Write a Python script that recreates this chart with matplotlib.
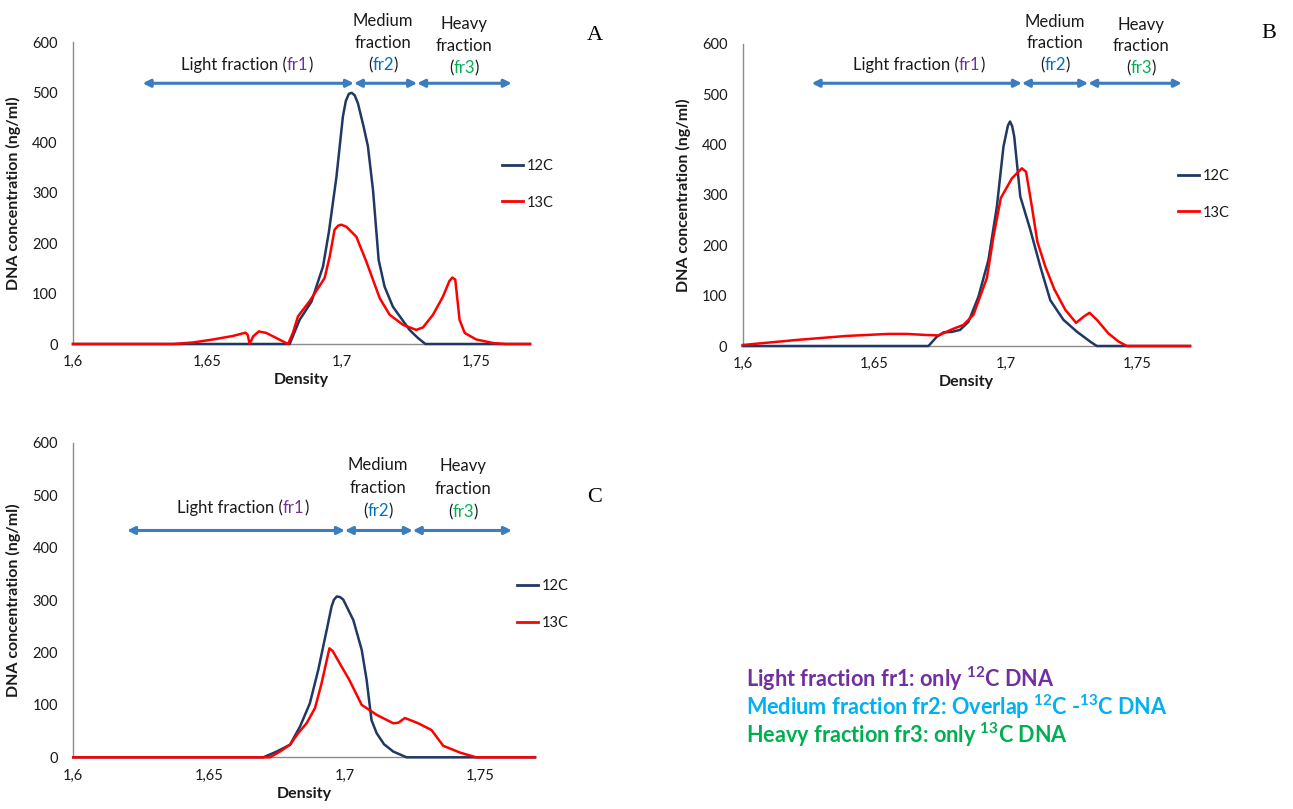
import matplotlib
matplotlib.use("Agg")
import matplotlib.pyplot as plt
from matplotlib.lines import Line2D

plt.rcParams['font.family'] = ['Lato', 'DejaVu Sans']
plt.rcParams['mathtext.fontset'] = 'custom'
plt.rcParams['mathtext.rm'] = 'Lato'
plt.rcParams['mathtext.bf'] = 'Lato:bold'

# ---------------- data ----------------
X_TICKS = [1.6, 1.65, 1.7, 1.75]
X_TICKLABELS = ['1,6', '1,65', '1,7', '1,75']
Y_TICKS = [0, 100, 200, 300, 400, 500, 600]
SERIES = ['12C', '13C']

A_12C_d = [1.600, 1.636, 1.668, 1.6806, 1.6843, 1.6887, 1.6930, 1.6952, 1.6980, 1.7004, 1.7015, 1.7026,
           1.7037, 1.7048, 1.7060, 1.7081, 1.7097, 1.7116, 1.7137, 1.7159, 1.7190, 1.7252, 1.7283, 1.7311,
           1.742, 1.750, 1.760, 1.770]
A_12C_v = [0, 0, 0, 0, 48, 84, 154, 223, 332, 452, 483, 497,
           499, 494, 478, 432, 393, 306, 167, 114, 74, 28, 12, 0,
           0, 0, 0, 0]
A_13C_d = [1.600, 1.6372, 1.6446, 1.6521, 1.6595, 1.6642, 1.6650, 1.6657, 1.6670, 1.6691, 1.6719, 1.6756,
           1.6800, 1.6818, 1.6837, 1.6880, 1.6936, 1.6955, 1.6973, 1.6986, 1.6998, 1.7017, 1.7054, 1.7091,
           1.7141, 1.7178, 1.7228, 1.7277, 1.7302, 1.7339, 1.7376, 1.7400, 1.7411, 1.7422, 1.7438, 1.7457,
           1.7500, 1.7562, 1.7610, 1.7700]
A_13C_v = [0, 0, 3, 9, 16, 22.5, 18, 0, 15, 25, 22, 12,
           0, 22, 55, 85, 131, 174, 227, 235, 237, 233, 213, 164,
           91, 58, 38, 28, 33, 58, 94, 125, 132, 128, 48, 22,
           9, 2, 0, 0]

B_12C_d = [1.600, 1.660, 1.6706, 1.6738, 1.6763, 1.6795, 1.6826, 1.6858, 1.6896, 1.6934, 1.6966, 1.6991,
           1.7008, 1.7016, 1.7024, 1.7032, 1.7055, 1.7093, 1.7131, 1.7169, 1.7219, 1.7270, 1.7321, 1.7346,
           1.750, 1.770]
B_12C_v = [0, 0, 0, 18.5, 27, 28, 32, 48, 98, 171, 277, 396,
           438, 446, 437, 416, 297, 231, 158, 91, 52, 28.5, 8.6, 0,
           0, 0]
B_13C_d = [1.600, 1.6205, 1.6395, 1.6554, 1.6624, 1.6693, 1.6744, 1.6795, 1.6839, 1.6877, 1.6902, 1.6928,
           1.6953, 1.6981, 1.7023, 1.7061, 1.7077, 1.7099, 1.7120, 1.7150, 1.7184, 1.7226, 1.7267, 1.7295,
           1.7318, 1.7346, 1.7390, 1.7428, 1.7460, 1.770]
B_13C_v = [2, 12, 20, 24, 24, 22, 21, 33, 42, 62, 98, 135,
           217, 294, 333, 353, 346, 277, 207, 158, 113, 72, 46, 58,
           66, 52, 25, 9, 0, 0]

C_12C_d = [1.600, 1.628, 1.660, 1.670, 1.6749, 1.6798, 1.6835, 1.6871, 1.6902, 1.6933, 1.6951, 1.6960,
           1.6970, 1.6982, 1.6994, 1.7031, 1.7062, 1.7080, 1.7098, 1.7117, 1.7144, 1.7178, 1.7227, 1.770]
C_12C_v = [0, 0, 0, 0, 11, 24, 59, 103, 167, 243, 288, 301,
           307, 306, 301, 262, 205, 148, 71, 46, 25, 11, 0, 0]
C_13C_d = [1.600, 1.6724, 1.6761, 1.6798, 1.6828, 1.6859, 1.6890, 1.6914, 1.6943, 1.6955, 1.6988, 1.7016,
           1.7062, 1.7117, 1.7178, 1.7197, 1.7221, 1.7270, 1.7319, 1.7362, 1.7424, 1.7483, 1.770]
C_13C_v = [0, 0, 11, 24, 46, 65, 94, 141, 208, 203, 173, 148,
           100, 81, 65, 66, 75, 65, 52, 22, 9, 0, 0]

# fraction boundaries (density) for each panel
A_FRAC = [1.6259, 1.7045, 1.7280, 1.7632]
B_FRAC = [1.6262, 1.7061, 1.7313, 1.7669]
C_FRAC = [1.6198, 1.7000, 1.7250, 1.7615]

# ---------------- style ----------------
W, H = 1293, 809
NAVY = '#1F3864'
RED = '#FF0000'
ARROW = '#3C7DC0'
PURPLE = '#7030A0'
BLUE = '#0070C0'
CYAN = '#00B0F0'
GREEN = '#00B050'
SPINE = '#8C8C8C'
TXT = '#1a1a1a'

fig = plt.figure(figsize=(W / 100, H / 100), dpi=100)
renderer = fig.canvas.get_renderer()


def fx(x):
    return x / W


def fy(y):
    return 1 - y / H


def make_axes(left, right, bottom, top):
    ax = fig.add_axes([fx(left), fy(bottom), (right - left) / W, (bottom - top) / H])
    ax.set_xlim(1.6, 1.77)
    ax.set_ylim(0, 600)
    ax.set_xticks(X_TICKS)
    ax.set_xticklabels(X_TICKLABELS)
    ax.set_yticks(Y_TICKS)
    for s in ['top', 'right']:
        ax.spines[s].set_visible(False)
    for s in ['left', 'bottom']:
        ax.spines[s].set_color(SPINE)
        ax.spines[s].set_linewidth(1.0)
    ax.tick_params(axis='both', length=0, labelsize=10.5, colors=TXT)
    ax.tick_params(axis='y', pad=11)
    ax.tick_params(axis='x', pad=8)
    ax.set_xlabel('Density', fontweight='bold', fontsize=11.5, color=TXT, labelpad=3)
    ax.set_ylabel('DNA concentration (ng/ml)', fontweight='bold', fontsize=11.5, color=TXT, labelpad=8)
    ax.patch.set_alpha(0)
    return ax


def rainbow(xpx, ypx, parts, size=12):
    ts = [fig.text(0, 0, s, color=c, fontsize=size, va='center', ha='left') for s, c in parts]
    ws = [t.get_window_extent(renderer).width for t in ts]
    x = xpx - sum(ws) / 2
    for t, w in zip(ts, ws):
        t.set_position((fx(x), fy(ypx)))
        x += w


def annotate_panel(ax, frac, yv, light_xy, med_x, med_ys, heavy_x, heavy_ys, letter_xy, letter):
    for a, b in zip(frac[:-1], frac[1:]):
        ax.annotate('', xy=(b, yv), xytext=(a, yv), xycoords='data',
                    arrowprops=dict(arrowstyle='<|-|>', color=ARROW, lw=2.2,
                                    mutation_scale=11, shrinkA=0, shrinkB=0),
                    annotation_clip=False)
    rainbow(light_xy[0], light_xy[1], [('Light fraction (', TXT), ('fr1', PURPLE), (')', TXT)])
    fig.text(fx(med_x), fy(med_ys[0]), 'Medium', fontsize=12, color=TXT, ha='center', va='center')
    fig.text(fx(med_x), fy(med_ys[1]), 'fraction', fontsize=12, color=TXT, ha='center', va='center')
    rainbow(med_x, med_ys[2], [('(', TXT), ('fr2', BLUE), (')', TXT)])
    fig.text(fx(heavy_x), fy(heavy_ys[0]), 'Heavy', fontsize=12, color=TXT, ha='center', va='center')
    fig.text(fx(heavy_x), fy(heavy_ys[1]), 'fraction', fontsize=12, color=TXT, ha='center', va='center')
    rainbow(heavy_x, heavy_ys[2], [('(', TXT), ('fr3', GREEN), (')', TXT)])
    fig.text(fx(letter_xy[0]), fy(letter_xy[1]), letter, fontsize=16, family='Liberation Serif',
             color='black', ha='center', va='center')


def legend(ax, x0, y0):
    handles = [Line2D([], [], color=NAVY, lw=2), Line2D([], [], color=RED, lw=2)]
    ax.legend(handles, SERIES, loc='upper left', bbox_to_anchor=(fx(x0), fy(y0)),
              bbox_transform=fig.transFigure, frameon=False, fontsize=10.5,
              handlelength=1.45, handletextpad=0.25, labelspacing=1.55,
              borderaxespad=0, borderpad=0, labelcolor=TXT)


# Panel A
axA = make_axes(73, 530, 344, 42)
axA.plot(A_12C_d, A_12C_v, color=NAVY, lw=1.8, clip_on=False, zorder=3)
axA.plot(A_13C_d, A_13C_v, color=RED, lw=1.8, clip_on=False, zorder=4)
annotate_panel(axA, A_FRAC, 518, (247, 65), 383, (21, 43, 65), 464, (24, 46, 68), (595, 35), 'A')
legend(axA, 502, 159)

# Panel B
axB = make_axes(742.7, 1190, 346, 44)
axB.plot(B_12C_d, B_12C_v, color=NAVY, lw=1.8, clip_on=False, zorder=3)
axB.plot(B_13C_d, B_13C_v, color=RED, lw=1.8, clip_on=False, zorder=4)
annotate_panel(axB, B_FRAC, 522, (919, 65), 1055, (22, 43, 65), 1141, (25, 46, 68), (1269, 33), 'B')
legend(axB, 1178, 169)

# Panel C
axC = make_axes(73.3, 535, 757.3, 443)
axC.plot(C_12C_d, C_12C_v, color=NAVY, lw=1.8, clip_on=False, zorder=3)
axC.plot(C_13C_d, C_13C_v, color=RED, lw=1.8, clip_on=False, zorder=4)
annotate_panel(axC, C_FRAC, 433, (243, 508), 378, (465, 488, 511), 463, (466, 489, 512), (595, 497), 'C')
legend(axC, 517, 579)

# Key text (bottom right)
KEY_SIZE = 15.6
fig.text(fx(746), fy(679), r'Light fraction fr1: only $\mathbf{^{12}}$C DNA', color=PURPLE,
         fontsize=KEY_SIZE, fontweight='bold', ha='left', va='center')
fig.text(fx(746), fy(707), r'Medium fraction fr2: Overlap $\mathbf{^{12}}$C -$\mathbf{^{13}}$C DNA', color=CYAN,
         fontsize=KEY_SIZE, fontweight='bold', ha='left', va='center')
fig.text(fx(746), fy(735), r'Heavy fraction fr3: only $\mathbf{^{13}}$C DNA', color=GREEN,
         fontsize=KEY_SIZE, fontweight='bold', ha='left', va='center')

fig.savefig('out.png', dpi=100)
